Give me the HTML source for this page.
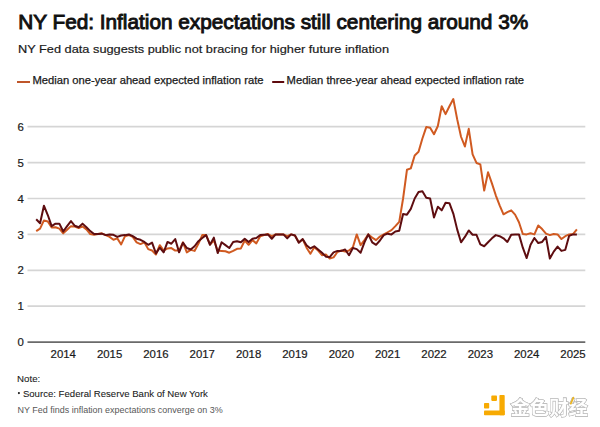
<!DOCTYPE html>
<html><head><meta charset="utf-8"><style>
html,body{margin:0;padding:0;background:#fff;}
body{width:600px;height:427px;overflow:hidden;position:relative;}
svg{position:absolute;left:0;top:0;display:block;}
text{font-family:"Liberation Sans",Arial,Helvetica,sans-serif;fill:#111;}
.ax{font-size:11.4px;fill:#1a1a1a;stroke:#1a1a1a;stroke-width:0.2px;}
.title{font-size:20.8px;font-weight:normal;fill:#111;stroke:#111;stroke-width:0.95px;}
.sub{font-size:11.8px;fill:#1a1a1a;stroke:#1a1a1a;stroke-width:0.2px;}
.leg{font-size:10.6px;fill:#1a1a1a;stroke:#1a1a1a;stroke-width:0.25px;}
.note{font-size:9.5px;fill:#1a1a1a;stroke:#1a1a1a;stroke-width:0.08px;}
.foot{font-size:8.8px;fill:#575757;}
.wm{font-family:"Liberation Sans","Noto Sans CJK SC",sans-serif;font-size:19px;font-weight:bold;fill:#fff;}
</style></head><body>
<svg width="600" height="427" viewBox="0 0 600 427">
<text x="18.2" y="29" class="title" textLength="510" lengthAdjust="spacingAndGlyphs">NY Fed: Inflation expectations still centering around 3%</text>
<text x="18" y="53" class="sub" textLength="371" lengthAdjust="spacingAndGlyphs">NY Fed data suggests public not bracing for higher future inflation</text>
<rect x="17" y="81" width="13" height="2" fill="#BF562A"/>
<text x="32.5" y="83.6" class="leg" textLength="231" lengthAdjust="spacingAndGlyphs">Median one-year ahead expected inflation rate</text>
<rect x="272.2" y="81" width="12" height="2" fill="#5E0A0E"/>
<text x="286.6" y="83.6" class="leg" textLength="237.5" lengthAdjust="spacingAndGlyphs">Median three-year ahead expected inflation rate</text>
<line x1="27.5" x2="585.3" y1="306.20" y2="306.20" stroke="#D5D5D5" stroke-width="1.7"/>
<line x1="27.5" x2="585.3" y1="270.30" y2="270.30" stroke="#D5D5D5" stroke-width="1.7"/>
<line x1="27.5" x2="585.3" y1="234.40" y2="234.40" stroke="#D5D5D5" stroke-width="1.7"/>
<line x1="27.5" x2="585.3" y1="198.50" y2="198.50" stroke="#D5D5D5" stroke-width="1.7"/>
<line x1="27.5" x2="585.3" y1="162.60" y2="162.60" stroke="#D5D5D5" stroke-width="1.7"/>
<line x1="27.5" x2="585.3" y1="126.70" y2="126.70" stroke="#D5D5D5" stroke-width="1.7"/>

<line x1="27.5" x2="585.3" y1="342.10" y2="342.10" stroke="#6A6A6A" stroke-width="1.9"/>
<text x="23.8" y="346.20" text-anchor="end" class="ax">0</text>
<text x="23.8" y="310.30" text-anchor="end" class="ax">1</text>
<text x="23.8" y="274.40" text-anchor="end" class="ax">2</text>
<text x="23.8" y="238.50" text-anchor="end" class="ax">3</text>
<text x="23.8" y="202.60" text-anchor="end" class="ax">4</text>
<text x="23.8" y="166.70" text-anchor="end" class="ax">5</text>
<text x="23.8" y="130.80" text-anchor="end" class="ax">6</text>

<text x="63.23" y="357.5" text-anchor="middle" class="ax">2014</text>
<text x="109.58" y="357.5" text-anchor="middle" class="ax">2015</text>
<text x="155.92" y="357.5" text-anchor="middle" class="ax">2016</text>
<text x="202.27" y="357.5" text-anchor="middle" class="ax">2017</text>
<text x="248.61" y="357.5" text-anchor="middle" class="ax">2018</text>
<text x="294.95" y="357.5" text-anchor="middle" class="ax">2019</text>
<text x="341.30" y="357.5" text-anchor="middle" class="ax">2020</text>
<text x="387.64" y="357.5" text-anchor="middle" class="ax">2021</text>
<text x="433.99" y="357.5" text-anchor="middle" class="ax">2022</text>
<text x="480.33" y="357.5" text-anchor="middle" class="ax">2023</text>
<text x="526.67" y="357.5" text-anchor="middle" class="ax">2024</text>
<text x="573.02" y="357.5" text-anchor="middle" class="ax">2025</text>

<polyline points="36.20,231.17 40.06,228.66 43.92,220.40 47.79,221.48 51.65,227.58 55.51,227.22 59.37,228.66 63.23,233.32 67.10,229.73 70.96,226.14 74.82,226.50 78.68,227.94 82.54,226.50 86.41,229.37 90.27,234.04 94.13,234.76 97.99,234.04 101.85,233.32 105.72,235.12 109.58,236.91 113.44,239.79 117.30,238.35 121.16,244.45 125.03,236.20 128.89,235.12 132.75,236.91 136.61,242.30 140.47,244.09 144.34,242.30 148.20,249.12 152.06,250.56 155.92,254.50 159.78,245.17 163.65,250.56 167.51,248.40 171.37,248.04 175.23,250.56 179.09,250.56 182.96,242.30 186.82,252.35 190.68,249.84 194.54,250.91 198.40,243.73 202.27,235.12 206.13,235.12 209.99,244.45 213.85,240.50 217.71,250.56 221.58,250.91 225.44,251.27 229.30,252.71 233.16,250.91 237.02,248.76 240.89,248.40 244.75,240.50 248.61,244.81 252.47,240.14 256.33,243.38 260.20,236.20 264.06,235.12 267.92,234.04 271.78,236.20 275.64,234.40 279.51,234.40 283.37,234.40 287.23,236.20 291.09,234.40 294.95,235.48 298.82,242.30 302.68,239.43 306.54,247.68 310.40,253.79 314.26,247.32 318.13,250.56 321.99,255.22 325.85,254.50 329.71,258.45 333.57,257.38 337.44,251.99 341.30,250.56 345.16,251.63 349.02,250.56 352.88,247.32 356.75,234.40 360.61,245.17 364.47,240.14 368.33,234.40 372.19,237.63 376.06,240.14 379.92,236.55 383.78,234.40 387.64,232.25 391.50,230.09 395.37,226.14 399.23,221.84 403.09,198.50 406.95,169.78 410.81,168.34 414.68,155.42 418.54,151.83 422.40,138.55 426.26,127.06 430.12,127.78 433.99,134.24 437.85,125.98 441.71,106.24 445.57,114.14 449.43,106.24 453.30,99.06 457.16,119.16 461.02,136.75 464.88,146.45 468.74,128.85 472.61,154.34 476.47,162.96 480.33,164.40 484.19,190.60 488.05,172.29 491.92,183.42 495.78,195.27 499.64,205.32 503.50,214.30 507.36,212.14 511.23,210.35 515.09,214.66 518.95,222.19 522.81,234.04 526.67,234.40 530.54,233.32 534.40,234.40 538.26,225.43 542.12,229.02 545.98,233.68 549.85,235.12 553.71,234.04 557.57,234.40 561.43,239.07 565.29,236.20 569.16,234.40 573.02,234.04 576.88,229.37" fill="none" stroke="#D05A21" stroke-width="2" stroke-linejoin="round" stroke-linecap="butt"/>
<polyline points="36.20,219.32 40.06,223.27 43.92,205.68 47.79,215.01 51.65,226.14 55.51,223.63 59.37,223.63 63.23,231.53 67.10,226.14 70.96,221.12 74.82,225.78 78.68,227.22 82.54,223.63 86.41,227.22 90.27,231.17 94.13,234.04 97.99,234.04 101.85,233.68 105.72,235.12 109.58,234.40 113.44,234.76 117.30,236.91 121.16,235.48 125.03,235.12 128.89,234.40 132.75,236.20 136.61,238.71 140.47,239.79 144.34,241.94 148.20,244.81 152.06,242.66 155.92,253.43 159.78,247.68 163.65,252.35 167.51,241.94 171.37,243.73 175.23,239.07 179.09,252.35 182.96,242.66 186.82,248.04 190.68,249.48 194.54,246.25 198.40,241.22 202.27,237.99 206.13,235.12 209.99,244.81 213.85,237.63 217.71,253.07 221.58,242.30 225.44,245.17 229.30,248.04 233.16,241.94 237.02,241.22 240.89,242.30 244.75,238.71 248.61,241.94 252.47,238.71 256.33,237.99 260.20,235.12 264.06,234.76 267.92,234.40 271.78,238.71 275.64,234.40 279.51,234.40 283.37,234.40 287.23,238.35 291.09,234.40 294.95,235.48 298.82,242.66 302.68,239.07 306.54,245.17 310.40,248.40 314.26,246.25 318.13,249.48 321.99,252.71 325.85,256.66 329.71,257.02 333.57,252.35 337.44,250.91 341.30,250.91 345.16,249.48 349.02,255.22 352.88,248.04 356.75,249.12 360.61,252.71 364.47,242.30 368.33,234.40 372.19,242.30 376.06,244.81 379.92,240.50 383.78,235.12 387.64,233.68 391.50,234.40 395.37,231.53 399.23,230.81 403.09,213.94 406.95,214.66 410.81,208.91 414.68,198.50 418.54,192.04 422.40,191.32 426.26,197.78 430.12,198.50 433.99,217.53 437.85,206.76 441.71,210.35 445.57,202.81 449.43,203.17 453.30,213.58 457.16,229.37 461.02,242.30 464.88,236.91 468.74,230.45 472.61,234.76 476.47,234.76 480.33,244.45 484.19,246.25 488.05,242.30 491.92,238.35 495.78,235.12 499.64,236.20 503.50,238.35 507.36,241.94 511.23,234.76 515.09,234.40 518.95,234.40 522.81,247.68 526.67,258.09 530.54,244.81 534.40,237.99 538.26,243.02 542.12,241.94 545.98,236.91 549.85,258.45 553.71,251.63 557.57,246.61 561.43,250.91 565.29,249.84 569.16,235.84 573.02,234.40 576.88,234.40" fill="none" stroke="#5E0D10" stroke-width="2" stroke-linejoin="round" stroke-linecap="butt"/>
<text x="17.1" y="382.1" class="note" textLength="23.2" lengthAdjust="spacingAndGlyphs">Note:</text>
<circle cx="18.9" cy="393.1" r="1.05" fill="#1a1a1a"/><text x="22.9" y="396.8" class="note" textLength="185" lengthAdjust="spacingAndGlyphs">Source: Federal Reserve Bank of New York</text>
<text x="17.6" y="413.3" class="foot" textLength="205" lengthAdjust="spacingAndGlyphs">NY Fed finds inflation expectations converge on 3%</text>
<g fill="#F7AA02">
<rect x="491.3" y="395.6" width="5.7" height="5.3" rx="0.8"/>
<rect x="484" y="403" width="5.2" height="5.6" rx="0.8"/>
<rect x="499.4" y="394.9" width="5.3" height="20.4" rx="0.8"/>
<rect x="484" y="410.4" width="20.7" height="4.9" rx="0.8"/>
</g>
<text x="510.5" y="414.6" class="wm" textLength="77.5" lengthAdjust="spacingAndGlyphs" style="stroke:#c0c0c0;stroke-width:1.2px;paint-order:stroke;filter:drop-shadow(0.6px 0.8px 0.6px rgba(0,0,0,.35))">金色财经</text>
<path d="M570.8 403.6 L573.4 397.6" stroke="#E9B424" stroke-width="1.8" stroke-linecap="round"/>
</svg>
</body></html>
